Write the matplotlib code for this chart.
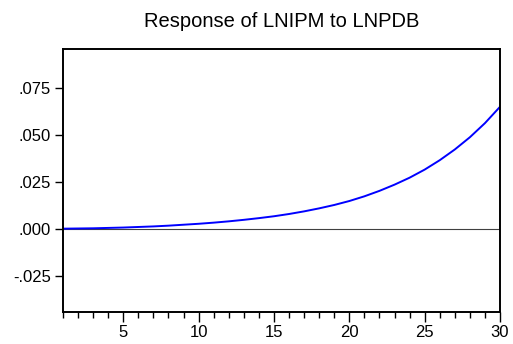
import matplotlib
matplotlib.use("Agg")
import matplotlib.pyplot as plt
from matplotlib.ticker import MultipleLocator

# Werte
perioden = list(range(1, 31))
antwort = [0.0002, 0.0003, 0.0004, 0.0006, 0.0008, 0.0011, 0.0014, 0.0018, 0.0023, 0.0028,
           0.0034, 0.0041, 0.0049, 0.0058, 0.0068, 0.0080, 0.0094, 0.0110, 0.0128, 0.0149,
           0.0174, 0.0203, 0.0236, 0.0273, 0.0316, 0.0366, 0.0423, 0.0488, 0.0563, 0.0650]
y_ticks = [-0.025, 0.0, 0.025, 0.050, 0.075]
y_labels = ["-.025", ".000", ".025", ".050", ".075"]
x_ticks = [5, 10, 15, 20, 25, 30]

plt.rcParams["font.family"] = ["Liberation Sans", "DejaVu Sans"]

fig = plt.figure(figsize=(5.13, 3.44), dpi=100)
ax = fig.add_axes([0.1228, 0.093, 0.8519, 0.7645])

ax.axhline(0, color="#404040", linewidth=0.8, zorder=1)
ax.plot(perioden, antwort, color="#0000ff", linewidth=1.4, zorder=2)

ax.set_xlim(1, 30)
ax.set_ylim(-0.0441, 0.0957)

ax.set_yticks(y_ticks)
ax.set_yticklabels(y_labels)
ax.set_xticks(x_ticks)
ax.xaxis.set_minor_locator(MultipleLocator(1))

ax.tick_params(axis="y", direction="out", length=6, width=1, labelsize=12, pad=2.5)
ax.tick_params(axis="x", which="major", direction="out", length=7, width=1, labelsize=12, pad=2)
ax.tick_params(axis="x", which="minor", direction="out", length=4, width=1)

for s in ax.spines.values():
    s.set_linewidth(1.4)
    s.set_color("black")

ax.set_title("Response of LNIPM to LNPDB", fontsize=14.5, pad=16)

fig.savefig("out.png", dpi=100)
